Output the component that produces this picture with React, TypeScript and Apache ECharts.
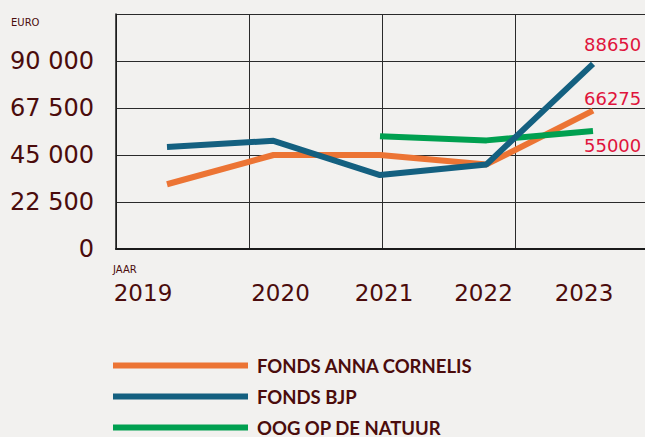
import React, { useEffect, useRef } from "react";
import * as echarts from "echarts";

const years = ["2019", "2020", "2021", "2022", "2023"];
const annaCornelis = [31000, 45000, 45000, 40500, 66275];
const fondsBJP = [48800, 51800, 35400, 40500, 88650];
const oogOpDeNatuur: (number | null)[] = [null, null, 54000, 52000, 56500];
const endLabels = ["66275", "88650", "55000"];
const seriesNames = ["FONDS ANNA CORNELIS", "FONDS BJP", "OOG OP DE NATUUR"];
const yTicks = [0, 22500, 45000, 67500, 90000];

const MAROON = "#4b0c0c";
const RED = "#e0143c";
const BG = "#f2f1ef";

function fmt(v: number) {
  return String(v).replace(/\B(?=(\d{3})+(?!\d))/g, " ");
}

export default function App() {
  const ref = useRef<HTMLDivElement>(null);
  useEffect(() => {
    document.body.style.margin = "0";
    const chart = echarts.init(ref.current!, undefined, { renderer: "svg" });
    const toPairs = (arr: (number | null)[]) =>
      arr.map((v, i) => (v == null ? [i, null] : [i, v])).filter((p) => p[1] != null);
    const yearRich: any = {
      y0: { padding: [0, 48, 0, 0] },
      y1: { padding: [0, 0, 0, 14] },
      y2: { padding: [0, 0, 0, 8] },
      y3: { padding: [0, 6, 0, 0] },
      y4: { padding: [0, 18, 0, 0] },
    };
    const labelFont = {
      fontFamily: "DejaVu Sans",
      fontSize: 18,
      color: RED,
    };
    chart.setOption({
      animation: false,
      backgroundColor: BG,
      grid: [
        { left: 116, top: 14, right: 0, height: 235 },
        { left: 167, top: 14, right: 52, height: 235 },
      ],
      xAxis: [
        {
          gridIndex: 0,
          type: "value",
          min: 0,
          max: 529 / 133,
          interval: 1,
          axisLine: { show: true, onZero: false, lineStyle: { color: "#1a1a1a", width: 2 } },
          axisTick: { show: false },
          axisLabel: { show: false },
          splitLine: { show: true, lineStyle: { color: "#2a2a2a", width: 1 } },
        },
        {
          gridIndex: 1,
          type: "value",
          min: 0,
          max: 4,
          interval: 1,
          axisLine: { show: false },
          axisTick: { show: false },
          splitLine: { show: false },
          axisLabel: {
            margin: 32,
            fontFamily: "DejaVu Sans",
            fontSize: 23,
            color: MAROON,
            formatter: (v: number) => `{y${v}|${years[v]}}`,
            rich: Object.fromEntries(
              Object.entries(yearRich).map(([k, s]: any) => [
                k,
                { ...s, fontFamily: "DejaVu Sans", fontSize: 23, color: MAROON },
              ])
            ),
          },
        },
      ],
      yAxis: [
        {
          gridIndex: 0,
          type: "value",
          min: 0,
          max: 112500,
          interval: 22500,
          axisLine: { show: true, lineStyle: { color: "#1a1a1a", width: 1.5 } },
          axisTick: { show: false },
          splitLine: { show: true, lineStyle: { color: "#2a2a2a", width: 1 } },
          axisLabel: {
            margin: 22,
            fontFamily: "DejaVu Sans",
            fontSize: 24,
            color: MAROON,
            formatter: (v: number) => (yTicks.includes(v) ? fmt(v) : ""),
          },
        },
        {
          gridIndex: 1,
          type: "value",
          min: 0,
          max: 112500,
          show: false,
        },
      ],
      legend: {
        orient: "vertical",
        left: 113,
        top: 356,
        height: 150,
        padding: 0,
        icon: "rect",
        itemWidth: 135,
        itemHeight: 6,
        itemGap: 12,
        data: seriesNames,
        textStyle: {
          fontFamily: "Lato",
          fontWeight: "bold",
          fontSize: 18.5,
          color: MAROON,
          padding: [0, 0, 0, 4],
        },
      },
      graphic: [
        {
          type: "text",
          left: 11,
          top: 17,
          style: { text: "EURO", fontFamily: "DejaVu Sans", fontSize: 10, fill: MAROON },
        },
        {
          type: "text",
          left: 113,
          top: 264,
          style: { text: "JAAR", fontFamily: "DejaVu Sans", fontSize: 10, fill: MAROON },
        },
      ],
      series: [
        {
          name: seriesNames[0],
          type: "line",
          xAxisIndex: 1,
          yAxisIndex: 1,
          data: toPairs(annaCornelis),
          symbol: "none",
          color: "#ec7434",
          lineStyle: { width: 6, color: "#ec7434" },
          z: 3,
          endLabel: {
            show: true,
            formatter: () => endLabels[0],
            distance: 0,
            offset: [-9, -12],
            ...labelFont,
          },
        },
        {
          name: seriesNames[1],
          type: "line",
          xAxisIndex: 1,
          yAxisIndex: 1,
          data: toPairs(fondsBJP),
          symbol: "none",
          color: "#146080",
          lineStyle: { width: 6, color: "#146080" },
          z: 4,
          endLabel: {
            show: true,
            formatter: () => endLabels[1],
            distance: 0,
            offset: [-9, -19],
            ...labelFont,
          },
        },
        {
          name: seriesNames[2],
          type: "line",
          xAxisIndex: 1,
          yAxisIndex: 1,
          data: toPairs(oogOpDeNatuur),
          symbol: "none",
          color: "#00a050",
          lineStyle: { width: 6, color: "#00a050" },
          z: 3,
          endLabel: {
            show: true,
            formatter: () => endLabels[2],
            distance: 0,
            offset: [-9, 15],
            ...labelFont,
          },
        },
      ],
    });
    return () => chart.dispose();
  }, []);
  return <div ref={ref} style={{ width: 645, height: 437, background: BG }} />;
}
